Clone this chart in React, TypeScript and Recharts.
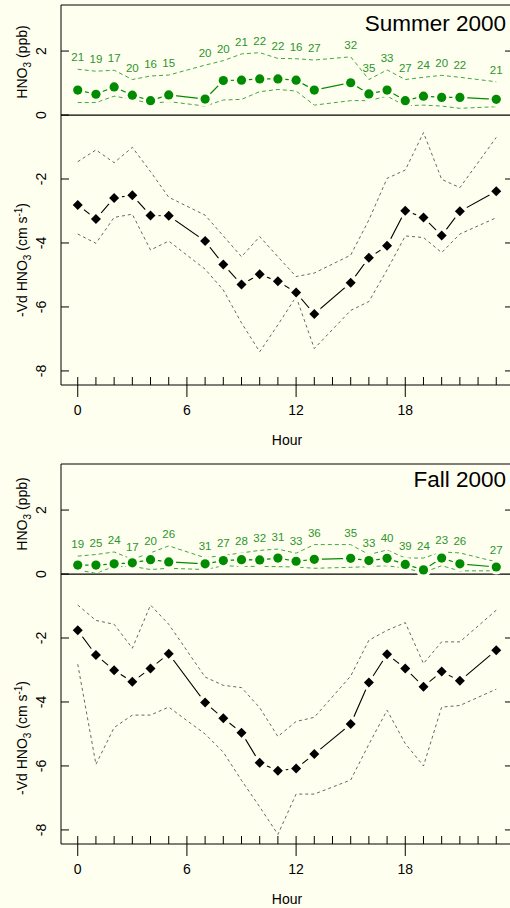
import React from 'react';
import { ComposedChart, Line, XAxis, YAxis, ReferenceLine, LabelList } from 'recharts';

// hours with observations (6, 14 and 22 are missing in both seasons)
const hours = [0, 1, 2, 3, 4, 5, 7, 8, 9, 10, 11, 12, 13, 15, 16, 17, 18, 19, 20, 21, 23];

// Summer 2000
const summerHno = [0.78, 0.65, 0.88, 0.62, 0.45, 0.63, 0.5, 1.08, 1.09, 1.13, 1.13, 1.09, 0.78, 1.01, 0.66, 0.78, 0.45, 0.59, 0.55, 0.55, 0.49];
const summerHnoHi = [1.43, 1.37, 1.4, 1.11, 1.22, 1.25, 1.56, 1.7, 1.91, 1.95, 1.77, 1.76, 1.72, 1.82, 1.11, 1.41, 1.11, 1.18, 1.24, 1.18, 1.04];
const summerHnoLo = [0.39, 0.39, 0.59, 0.49, 0.36, 0.42, 0.28, 0.47, 0.49, 0.73, 0.8, 0.75, 0.31, 0.45, 0.45, 0.59, 0.29, 0.31, 0.28, 0.21, 0.26];
const summerCount = [21, 19, 17, 20, 16, 15, 20, 20, 21, 22, 22, 16, 27, 32, 35, 33, 27, 24, 20, 22, 21];
const summerVd = [-2.81, -3.25, -2.59, -2.51, -3.14, -3.15, -3.94, -4.67, -5.3, -4.98, -5.2, -5.55, -6.22, -5.24, -4.46, -4.09, -2.99, -3.2, -3.77, -3.01, -2.38];
const summerVdHi = [-1.46, -1.09, -1.49, -1.01, -1.77, -2.57, -3.13, -3.78, -4.43, -3.8, -4.43, -5.05, -4.94, -4.38, -3.28, -1.98, -1.72, -0.55, -2.01, -2.27, -0.7];
const summerVdLo = [-3.72, -4.01, -3.2, -3.1, -4.22, -3.94, -4.82, -5.47, -6.5, -7.4, -6.56, -5.68, -7.3, -6.11, -5.83, -4.84, -3.78, -3.83, -4.3, -3.72, -3.21];

// Fall 2000
const fallHno = [0.28, 0.28, 0.32, 0.35, 0.45, 0.38, 0.32, 0.42, 0.45, 0.44, 0.5, 0.4, 0.46, 0.49, 0.42, 0.49, 0.3, 0.13, 0.5, 0.32, 0.22];
const fallHnoHi = [0.56, 0.61, 0.69, 0.46, 0.66, 0.88, 0.51, 0.58, 0.66, 0.74, 0.78, 0.65, 0.92, 0.92, 0.61, 0.75, 0.5, 0.5, 0.69, 0.66, 0.38];
const fallHnoLo = [0.12, 0.03, 0.23, 0.24, 0.14, 0.18, 0.14, 0.26, 0.24, 0.24, 0.23, 0.22, 0.18, 0.21, 0.23, 0.26, 0.18, 0.05, 0.26, 0.1, 0.1];
const fallCount = [19, 25, 24, 17, 20, 26, 31, 27, 28, 32, 31, 33, 36, 35, 33, 40, 39, 24, 23, 26, 27];
const fallVd = [-1.76, -2.53, -3.01, -3.37, -2.95, -2.49, -4.02, -4.51, -4.96, -5.9, -6.15, -6.08, -5.63, -4.69, -3.39, -2.51, -2.95, -3.52, -3.05, -3.34, -2.38];
const fallVdHi = [-0.97, -1.45, -1.57, -2.32, -0.97, -1.57, -3.22, -3.48, -3.55, -4.18, -5.08, -4.61, -4.48, -3.19, -2.07, -1.76, -1.52, -2.8, -2.12, -2.12, -1.13];
const fallVdLo = [-2.82, -5.95, -4.8, -4.41, -4.41, -4.16, -5.0, -5.57, -6.45, -7.28, -8.14, -6.88, -6.88, -6.44, -5.32, -4.26, -5.3, -6.0, -4.16, -4.11, -3.6];

const hourTicks = Array.from({ length: 24 }, (_, i) => i);
const leftTicks = [2, 0, -2, -4, -6, -8];

const BG = '#fffff0';
const GREEN = '#008b00';
const LIGHT_GREEN = '#3fa83f';
const LABEL_GREEN = '#2a952a';
const FONT = '"Liberation Sans", Arial, Helvetica, sans-serif';
const Y_DOMAIN = [-8.44, 3.44];
const X_DOMAIN = [-0.92, 23.92];

const CHART_W = 520;
const AXIS_W = 61;
const MARGIN_R = 7;
const PLOT_W = CHART_W - AXIS_W - MARGIN_R;

// left tick + label, plus the matching inward tick on the right frame edge
const LeftTick = (props: any) => {
  const { x, y, payload } = props;
  const tx = x - 15;
  const xr = x + PLOT_W;
  return (
    <g>
      <line x1={x} y1={y} x2={x + 8} y2={y} stroke="#000" />
      {payload.value !== 0 && <line x1={xr - 8} y1={y} x2={xr} y2={y} stroke="#000" />}
      <text x={tx} y={y} transform={`rotate(-90, ${tx}, ${y})`} textAnchor="middle" fontSize={14} fontFamily={FONT} fill="#000">
        {payload.value}
      </text>
    </g>
  );
};

const HourTick = (props: any) => {
  const { x, y, payload } = props;
  const major = payload.value % 6 === 0;
  return (
    <g>
      <line x1={x} y1={y - 8} x2={x} y2={major ? y + 12 : y} stroke="#000" />
      {major && (
        <text x={x} y={y + 30} textAnchor="middle" fontSize={14} fontFamily={FONT} fill="#000">
          {payload.value}
        </text>
      )}
    </g>
  );
};

const GreenDot = (props: any) => {
  const { cx, cy } = props;
  if (cx == null || cy == null) return null;
  return (
    <g>
      <circle cx={cx} cy={cy} r={7.5} fill={BG} />
      <circle cx={cx} cy={cy} r={4.6} fill={GREEN} />
    </g>
  );
};

const Diamond = (props: any) => {
  const { cx, cy } = props;
  if (cx == null || cy == null) return null;
  return (
    <g>
      <circle cx={cx} cy={cy} r={8} fill={BG} />
      <path d={`M${cx},${cy - 5} L${cx + 5},${cy} L${cx},${cy + 5} L${cx - 5},${cy} Z`} fill="#000" />
    </g>
  );
};

interface PanelProps {
  top: number;
  title: string;
  titleY: number;
  hnoLabelY: number;
  vdLabelY: number;
  hno: number[];
  hnoHi: number[];
  hnoLo: number[];
  counts: number[];
  vd: number[];
  vdHi: number[];
  vdLo: number[];
}

function Panel({ top, title, titleY, hnoLabelY, vdLabelY, hno, hnoHi, hnoLo, counts, vd, vdHi, vdLo }: PanelProps) {
  const rows = hours.map((h, i) => ({
    hour: h,
    hno: hno[i],
    hnoHi: hnoHi[i],
    hnoLo: hnoLo[i],
    n: counts[i],
    vd: vd[i],
    vdHi: vdHi[i],
    vdLo: vdLo[i],
  }));

  return (
    <div style={{ position: 'absolute', left: 0, top, width: CHART_W, height: 459 }}>
      <ComposedChart width={CHART_W} height={459} data={rows} margin={{ top: 5, right: MARGIN_R, bottom: 0, left: 0 }}>
        <XAxis
          dataKey="hour"
          type="number"
          domain={X_DOMAIN}
          ticks={hourTicks}
          interval={0}
          height={74}
          tickSize={0}
          tickMargin={0}
          tickLine={false}
          tick={<HourTick />}
          axisLine={{ stroke: '#000' }}
          allowDataOverflow
        />
        <YAxis
          type="number"
          domain={Y_DOMAIN}
          ticks={leftTicks}
          interval={0}
          width={AXIS_W}
          tickSize={0}
          tickMargin={0}
          tickLine={false}
          tick={<LeftTick />}
          axisLine={{ stroke: '#000' }}
          allowDataOverflow
        />
        <ReferenceLine y={Y_DOMAIN[1]} stroke="#000" strokeWidth={1.2} ifOverflow="visible" />
        <ReferenceLine y={0} stroke="#000" strokeWidth={1.2} />

        {/* HNO3 concentration */}
        <Line dataKey="hno" stroke={GREEN} strokeWidth={1.2} dot={<GreenDot />} isAnimationActive={false} />
        <Line dataKey="hnoHi" stroke={LIGHT_GREEN} strokeWidth={1} strokeDasharray="4 3" dot={false} isAnimationActive={false}>
          <LabelList dataKey="n" position="top" offset={8} fill={LABEL_GREEN} fontSize={11.5} fontFamily={FONT} />
        </Line>
        <Line dataKey="hnoLo" stroke={LIGHT_GREEN} strokeWidth={1} strokeDasharray="4 3" dot={false} isAnimationActive={false} />

        {/* deposition velocity */}
        <Line dataKey="vd" stroke="#000" strokeWidth={1.1} dot={<Diamond />} isAnimationActive={false} />
        <Line dataKey="vdHi" stroke="#555" strokeWidth={0.9} strokeDasharray="3 3" dot={false} isAnimationActive={false} />
        <Line dataKey="vdLo" stroke="#555" strokeWidth={0.9} strokeDasharray="3 3" dot={false} isAnimationActive={false} />
      </ComposedChart>

      <svg width={CHART_W} height={459} style={{ position: 'absolute', left: 0, top: 0, pointerEvents: 'none' }}>
        <text x={506} y={titleY} textAnchor="end" fontSize={22.5} fontFamily={FONT} fill="#000">
          {title}
        </text>
        <text transform={`translate(27, ${hnoLabelY}) rotate(-90)`} textAnchor="middle" fontSize={14} fontFamily={FONT} fill="#000">
          HNO<tspan fontSize={10} dy={4}>3</tspan>
          <tspan dy={-4}> (ppb)</tspan>
        </text>
        <text transform={`translate(27, ${vdLabelY}) rotate(-90)`} textAnchor="middle" fontSize={14} fontFamily={FONT} fill="#000">
          -Vd HNO<tspan fontSize={10} dy={4}>3</tspan>
          <tspan dy={-4}> (cm s</tspan>
          <tspan fontSize={10} dy={-5}>-1</tspan>
          <tspan dy={5}>)</tspan>
        </text>
        <text x={287} y={445} textAnchor="middle" fontSize={14} fontFamily={FONT} fill="#000">
          Hour
        </text>
      </svg>
    </div>
  );
}

export default function App() {
  return (
    <div style={{ position: 'absolute', left: 0, top: 0, width: 510, height: 908, overflow: 'hidden', background: BG, fontFamily: FONT }}>
      <Panel
        top={0}
        title="Summer 2000"
        titleY={31}
        hnoLabelY={62}
        vdLabelY={260}
        hno={summerHno}
        hnoHi={summerHnoHi}
        hnoLo={summerHnoLo}
        counts={summerCount}
        vd={summerVd}
        vdHi={summerVdHi}
        vdLo={summerVdLo}
      />
      <Panel
        top={459}
        title="Fall 2000"
        titleY={28}
        hnoLabelY={55}
        vdLabelY={279}
        hno={fallHno}
        hnoHi={fallHnoHi}
        hnoLo={fallHnoLo}
        counts={fallCount}
        vd={fallVd}
        vdHi={fallVdHi}
        vdLo={fallVdLo}
      />
    </div>
  );
}
